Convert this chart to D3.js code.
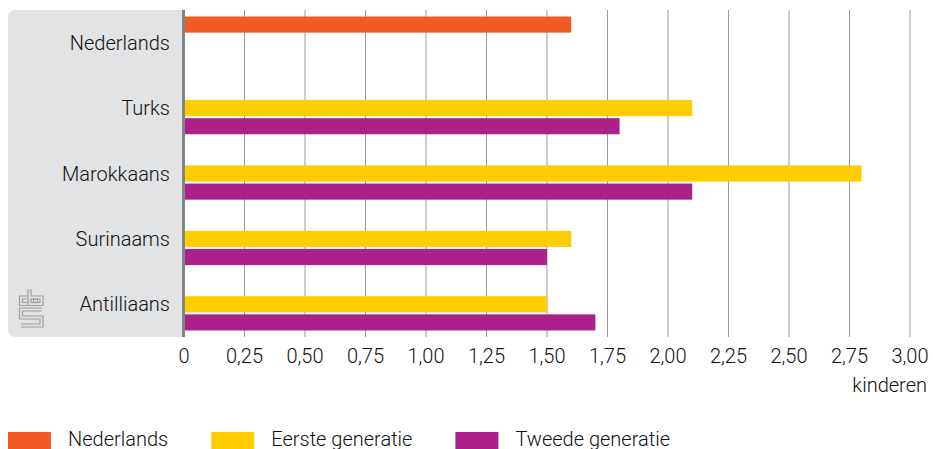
<!DOCTYPE html>
<html>
<head>
<meta charset="utf-8">
<script src="https://cdn.jsdelivr.net/npm/d3@7"></script>
<style>
  body { margin: 0; background: #fff; }
  svg text { font-family: Roboto, "Open Sans", sans-serif; font-weight: 300; font-size: 20px; fill: #111; }
</style>
</head>
<body>
<script>
// herkomstgroepen en gemiddeld aantal kinderen
const groups = ['Nederlands', 'Turks', 'Marokkaans', 'Surinaams', 'Antilliaans']
const series = ['Nederlands', 'Eerste generatie', 'Tweede generatie']
const nederlands = [1.6, null, null, null, null]
const eersteGen = [null, 2.1, 2.8, 1.6, 1.5]
const tweedeGen = [null, 1.8, 2.1, 1.5, 1.7]
const ticks = [0, 0.25, 0.5, 0.75, 1, 1.25, 1.5, 1.75, 2, 2.25, 2.5, 2.75, 3]
const colors = ['#f15a22', '#ffcc00', '#ac2089']

const width = 933, height = 449
const plotTop = 10, plotBottom = 337, plotLeft = 184, plotRight = 910

const svg = d3.select('body').append('svg')
  .attr('width', width)
  .attr('height', height)

const x = d3.scaleLinear().domain([0, 3]).range([plotLeft, plotRight])
const y = d3.scaleBand().domain(groups).range([plotTop, plotBottom]).paddingInner(0.2).paddingOuter(0.1)
const ySub = d3.scaleBand().domain(series).range([0, y.bandwidth()]).paddingInner(0.111)

// grijs vlak achter de labels
svg.append('path')
  .attr('fill', '#e2e3e5')
  .attr('d', `M${plotLeft},${plotTop} H16 Q8,${plotTop} 8,${plotTop + 8} V${plotBottom - 8} Q8,${plotBottom} 16,${plotBottom} H${plotLeft} Z`)

// rasterlijnen
svg.append('g')
  .selectAll('line')
  .data(ticks.slice(1))
  .join('line')
  .attr('x1', d => x(d)).attr('x2', d => x(d))
  .attr('y1', plotTop).attr('y2', plotBottom)
  .attr('stroke', '#9b9b9b')
  .attr('stroke-width', 1)

const rows = groups.map((g, i) => ({
  group: g,
  values: [nederlands[i], eersteGen[i], tweedeGen[i]]
}))

svg.append('g')
  .selectAll('g')
  .data(rows)
  .join('g')
  .attr('transform', d => `translate(0,${y(d.group)})`)
  .selectAll('rect')
  .data(d => d.values.map((v, j) => ({ key: series[j], value: v, color: colors[j] })).filter(d => d.value != null))
  .join('rect')
  .attr('x', x(0))
  .attr('y', d => ySub(d.key))
  .attr('width', d => x(d.value) - x(0))
  .attr('height', ySub.bandwidth())
  .attr('fill', d => d.color)

// as-lijn
svg.append('rect')
  .attr('x', plotLeft - 2).attr('y', plotTop)
  .attr('width', 3).attr('height', plotBottom - plotTop)
  .attr('fill', '#858585')

// categorie labels
svg.append('g')
  .selectAll('text')
  .data(groups)
  .join('text')
  .attr('x', 170)
  .attr('y', d => y(d) + y.bandwidth() / 2)
  .attr('dy', '0.35em')
  .attr('text-anchor', 'end')
  .text(d => d)

// x-as labels
const fmt = d => d === 0 ? '0' : d3.format('.2f')(d).replace('.', ',')
svg.append('g')
  .selectAll('text')
  .data(ticks)
  .join('text')
  .attr('x', d => x(d))
  .attr('y', 363)
  .attr('text-anchor', 'middle')
  .text(fmt)

svg.append('text')
  .attr('x', 927).attr('y', 392)
  .attr('text-anchor', 'end')
  .text('kinderen')

// cbs logo (vereenvoudigd): dikke grijze lijn met lichte kern
const logo = [
  'M27,297.5 H21 V304 H27',
  'M29.5,289.5 V304 H41.5 V297.5 H29.5',
  'M41.5,309.5 H21 V317.5 H41.5 V325.5 H21'
].join(' ')
svg.append('path').attr('d', logo).attr('fill', 'none')
  .attr('stroke', '#9d9d9d').attr('stroke-width', 4.2)
svg.append('path').attr('d', logo).attr('fill', 'none')
  .attr('stroke', '#e2e3e5').attr('stroke-width', 1.8)
svg.append('rect')
  .attr('x', 33.5).attr('y', 299.2).attr('width', 4).attr('height', 3.4)
  .attr('fill', 'none').attr('stroke', '#9d9d9d').attr('stroke-width', 1.1)

// legenda
const legend = svg.append('g')
let lx = 8
series.forEach((s, i) => {
  legend.append('rect')
    .attr('x', lx).attr('y', 432)
    .attr('width', 43).attr('height', 20)
    .attr('fill', colors[i])
  const t = legend.append('text')
    .attr('x', lx + 60).attr('y', 446)
    .text(s)
  lx += 60 + t.node().getComputedTextLength() + 43
})
</script>
</body>
</html>
